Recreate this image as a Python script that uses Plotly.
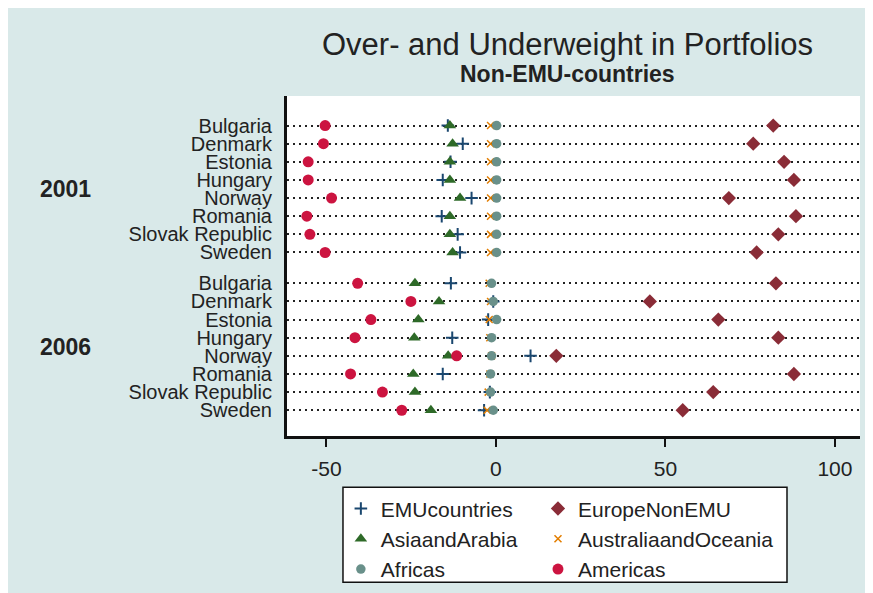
import plotly.graph_objects as go

# categories
countries = ["Bulgaria", "Denmark", "Estonia", "Hungary", "Norway",
             "Romania", "Slovak Republic", "Sweden"]
years = ["2001", "2006"]

# over/underweight per region, 2001 rows first then 2006 rows
emu = [-14.2, -9.8, -13.4, -15.7, -7.2, -16.0, -11.3, -10.6,
       -13.3, -0.8, -2.3, -12.9, 10.2, -15.7, -1.8, -3.5]
europe = [81.8, 75.9, 85.0, 87.9, 68.7, 88.5, 83.3, 76.9,
          82.6, 45.4, 65.6, 83.3, 17.8, 87.9, 64.1, 55.1]
asia = [-13.6, -12.8, -13.6, -13.6, -10.6, -13.6, -13.6, -12.8,
        -23.9, -16.8, -22.9, -24.1, -14.1, -24.4, -23.9, -19.2]
australia = [-1.6, -1.6, -1.6, -1.6, -1.6, -1.6, -1.6, -1.6,
             -2.0, -1.6, -2.0, -1.8, -1.3, -1.8, -2.3, -2.6]
africas = [0.2, 0.2, 0.2, 0.2, 0.2, 0.2, 0.2, 0.2,
           -1.3, -0.8, 0.2, -1.3, -1.3, -1.6, -1.6, -0.8]
americas = [-50.4, -50.9, -55.4, -55.4, -48.5, -55.8, -54.9, -50.4,
            -40.8, -25.1, -36.9, -41.6, -11.6, -42.9, -33.5, -27.8]

xticks = [-50, 0, 50, 100]
xticklabels = ["-50", "0", "50", "100"]

# row positions: one row per country, a gap between the year groups
gap = 0.7
ypos = []
ylabels = []
for yi in range(len(years)):
    for ci in range(len(countries)):
        ypos.append(yi * (len(countries) + gap) + ci)
        ylabels.append(countries[ci])

# name, values, marker, legend column
series = [
    ("EMUcountries", emu, dict(symbol="cross-thin", size=9, color="#1a476f",
                                line=dict(width=2, color="#1a476f")), "legend"),
    ("EuropeNonEMU", europe, dict(symbol="diamond", size=11, color="#8a2c37"), "legend2"),
    ("AsiaandArabia", asia, dict(symbol="triangle-up", size=11, color="#2e6a28"), "legend"),
    ("AustraliaandOceania", australia, dict(symbol="x-thin", size=7, color="#e37e00",
                                            line=dict(width=1.5, color="#e37e00")), "legend2"),
    ("Africas", africas, dict(symbol="circle", size=9.5, color="#69908a"), "legend"),
    ("Americas", americas, dict(symbol="circle", size=11, color="#cc1440"), "legend2"),
]

fig = go.Figure()
for name, vals, mk, lg in series:
    fig.add_trace(go.Scatter(x=vals, y=ypos, mode="markers", name=name,
                             marker=mk, legend=lg))

# year group labels
for yi, yr in enumerate(years):
    rows = ypos[yi * len(countries):(yi + 1) * len(countries)]
    fig.add_annotation(x=-0.435, xref="paper", xanchor="left",
                       y=sum(rows) / len(rows), yref="y",
                       text="<b>" + yr + "</b>", showarrow=False,
                       font=dict(size=23, color="#222222"))

fig.add_annotation(x=0.49, y=1.152, xref="paper", yref="paper",
                   text="Over- and Underweight in Portfolios", showarrow=False,
                   font=dict(size=31, color="#222222"), yanchor="middle")
fig.add_annotation(x=0.49, y=1.065, xref="paper", yref="paper",
                   text="<b>Non-EMU-countries</b>", showarrow=False,
                   font=dict(size=23, color="#222222"), yanchor="middle")

# legend box
fig.add_shape(type="rect", xref="paper", yref="paper", x0=0.0977, x1=0.8726,
              y0=-0.430, y1=-0.151, fillcolor="white",
              line=dict(color="#111111", width=1.5), layer="above")

leg = dict(orientation="v", yanchor="top", xanchor="left", y=-0.154,
           bgcolor="rgba(0,0,0,0)", borderwidth=0, font=dict(size=21),
           tracegroupgap=0)

# the page body adds 8px of white on the left and top
fig.update_layout(
    width=873, height=593,
    margin=dict(l=279, r=21, t=88, b=161),
    paper_bgcolor="#d9e9e9",
    plot_bgcolor="white",
    font=dict(family="Liberation Sans, Arial, sans-serif", color="#222222"),
    showlegend=True,
    legend=dict(leg, x=0.094),
    legend2=dict(leg, x=0.438),
    xaxis=dict(range=[-61.65, 107.4], tickvals=xticks, ticktext=xticklabels,
               showgrid=False, automargin=False,
               zeroline=False, showline=True, linecolor="#111111", linewidth=3,
               ticks="outside", ticklen=8, tickwidth=2, tickcolor="#111111",
               ticklabelstandoff=4, tickfont=dict(size=21)),
    yaxis=dict(range=[17.12, -1.63], tickvals=ypos, ticktext=ylabels,
               automargin=False,
               showgrid=True, gridcolor="#222222", gridwidth=2, griddash="2px,4px",
               zeroline=False, showline=True, linecolor="#111111", linewidth=3,
               ticks="", ticklabelstandoff=8, tickfont=dict(size=20)),
)

fig.write_html("out.html")
